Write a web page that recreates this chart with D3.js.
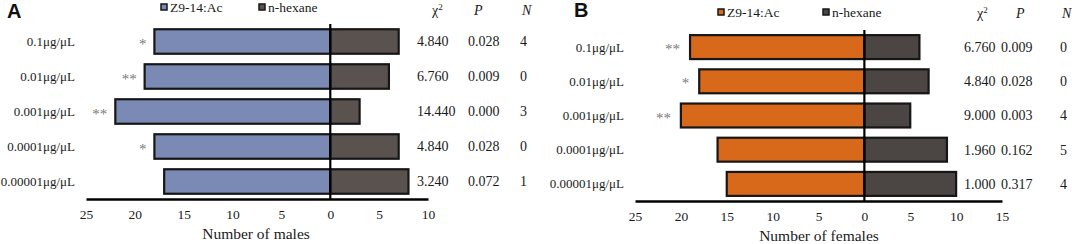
<!DOCTYPE html>
<html><head><meta charset="utf-8">
<script src="https://cdn.jsdelivr.net/npm/d3@7"></script>
<style>
body{margin:0;background:#fff;}
svg text{font-family:"Liberation Serif","Times New Roman",serif;fill:#1a1a1a;}
</style></head><body>
<svg id="c" width="1072" height="244"></svg>
<script>
const categories = ["0.1μg/μL","0.01μg/μL","0.001μg/μL","0.0001μg/μL","0.00001μg/μL"];
const maleZ9 = [18,19,22,18,17];
const maleHex = [7,6,3,7,8];
const maleChi = ["4.840","6.760","14.440","4.840","3.240"];
const maleP = ["0.028","0.009","0.000","0.028","0.072"];
const maleN = ["4","0","3","0","1"];
const maleSig = ["*","**","**","*",""];
const femZ9 = [19,18,20,16,15];
const femHex = [6,7,5,9,10];
const femChi = ["6.760","4.840","9.000","1.960","1.000"];
const femP = ["0.009","0.028","0.003","0.162","0.317"];
const femN = ["0","0","4","5","4"];
const femSig = ["**","*","**","",""];
const ticksA = [-25,-20,-15,-10,-5,0,5,10];
const ticksB = [-25,-20,-15,-10,-5,0,5,10,15];

const svg = d3.select("#c");

function panel(o){
  const g = svg.append("g");
  const x = d3.scaleLinear().domain(o.xdom).range(o.xr);
  const y = d3.scaleBand().domain(categories).range(o.yr).paddingInner(0.3).paddingOuter(0.15);
  g.selectAll(".z").data(o.z9).join("rect")
    .attr("x", d=>x(-d)).attr("y",(d,i)=>y(categories[i]))
    .attr("width", d=>x(0)-x(-d)).attr("height", y.bandwidth())
    .attr("fill", o.c1).attr("stroke","#161616").attr("stroke-width",2.2);
  g.selectAll(".h").data(o.hex).join("rect")
    .attr("x", x(0)).attr("y",(d,i)=>y(categories[i]))
    .attr("width", d=>x(d)-x(0)).attr("height", y.bandwidth())
    .attr("fill", o.c2).attr("stroke","#161616").attr("stroke-width",2.2);
  g.append("line").attr("x1",x(0)).attr("x2",x(0)).attr("y1",o.yr[0]).attr("y2",o.yr[1])
    .attr("stroke","#000").attr("stroke-width",2.2);
  const ax = g.append("g").attr("transform",`translate(0,${o.yr[1]})`)
    .call(d3.axisBottom(x).tickValues(o.ticks).tickFormat(d=>Math.abs(d)).tickSize(0).tickSizeOuter(0).tickPadding(10));
  ax.select(".domain").attr("stroke","#000").attr("stroke-width",2.6);
  ax.selectAll("text").style("font-family","Liberation Serif, serif").style("font-size","13.5px").attr("fill","#1a1a1a");
  g.selectAll(".cl").data(categories).join("text")
    .attr("x", o.labX).attr("y", d=>y(d)+y.bandwidth()/2).attr("dy","0.35em")
    .attr("text-anchor","end").style("font-size","13px").text(d=>d);
  g.selectAll(".sg").data(o.sig).join("text")
    .attr("x",(d,i)=>x(-o.z9[i])-o.sigGap).attr("y",(d,i)=>y(categories[i])+y.bandwidth()/2+7)
    .attr("text-anchor","end").style("font-size","15px").style("fill","#7a7a7a").text(d=>d);
  [[o.chi,o.sx[0]],[o.p,o.sx[1]],[o.n,o.sx[2]]].forEach(([arr,sx])=>{
    g.selectAll(null).data(arr).join("text")
      .attr("x",sx).attr("y",(d,i)=>y(categories[i])+y.bandwidth()/2).attr("dy","0.35em")
      .style("font-size","14px").text(d=>d);
  });
  const chi = g.append("text").attr("x",o.hx[0]).attr("y",o.hy).style("font-size","14px");
  chi.append("tspan").text("χ");
  chi.append("tspan").attr("dy",-5).style("font-size","9px").text("2");
  g.append("text").attr("x",o.hx[1]).attr("y",o.hy).style("font-size","14px").style("font-style","italic").text("P");
  g.append("text").attr("x",o.hx[2]).attr("y",o.hy).style("font-size","14px").style("font-style","italic").text("N");
  const leg = [["Z9-14:Ac",o.c1,o.lx[0]],["n-hexane",o.c2,o.lx[1]]];
  leg.forEach(([t,c,lx])=>{
    g.append("rect").attr("x",lx).attr("y",o.ly-8).attr("width",6).attr("height",6)
      .attr("fill",c).attr("stroke","#161616").attr("stroke-width",1.5);
    g.append("text").attr("x",lx+9).attr("y",o.ly).style("font-size","13.5px").text(t);
  });
  g.append("text").attr("x",o.tx).attr("y",o.ty).attr("text-anchor","middle").style("font-size","15.5px").text(o.title);
  g.append("text").attr("x",o.px).attr("y",o.py).style("font-family","Liberation Sans, Arial, sans-serif")
    .style("font-weight","bold").style("font-size","20px").style("fill","#111").text(o.letter);
}

panel({xdom:[-25,10], xr:[86,428], yr:[24,199], ticks:ticksA, z9:maleZ9, hex:maleHex,
  c1:"#7a8ab4", c2:"#5a524f", labX:75, sig:maleSig, sigGap:8,
  chi:maleChi, p:maleP, n:maleN, sx:[417,468,520], hx:[432,474,522], hy:15,
  lx:[161,259], ly:12, tx:256, ty:239, title:"Number of males", letter:"A", px:7, py:18});
panel({xdom:[-25,15], xr:[635,1002], yr:[30,201], ticks:ticksB, z9:femZ9, hex:femHex,
  c1:"#d9691a", c2:"#4b4543", labX:624, sig:femSig, sigGap:10,
  chi:femChi, p:femP, n:femN, sx:[964,1001,1060], hx:[977,1016,1062], hy:18,
  lx:[718,823], ly:17, tx:819, ty:241, title:"Number of females", letter:"B", px:574, py:17});
</script>
</body></html>
